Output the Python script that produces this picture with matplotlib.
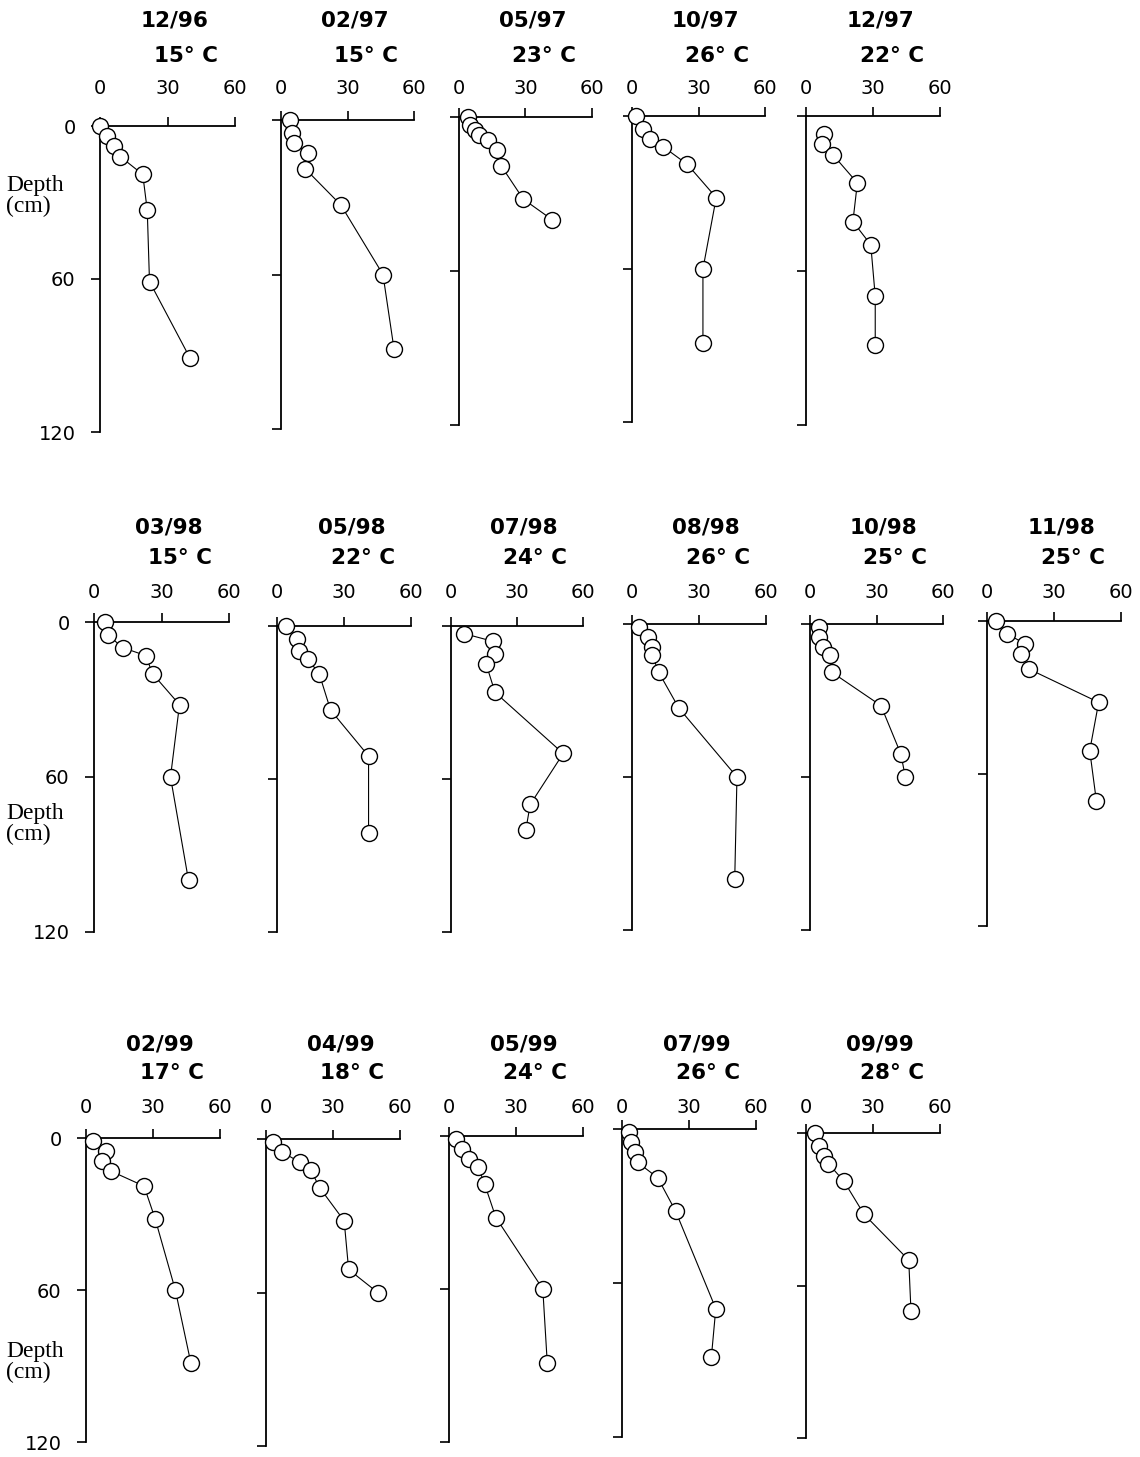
import matplotlib
matplotlib.use("Agg")
import matplotlib.pyplot as plt

W, H, DPI = 1140, 1457, 100

# ---------------- data ----------------
dates = ["12/96", "02/97", "05/97", "10/97", "12/97",
         "03/98", "05/98", "07/98", "08/98", "10/98", "11/98",
         "02/99", "04/99", "05/99", "07/99", "09/99"]
temps = ["15° C", "15° C", "23° C", "26° C", "22° C",
         "15° C", "22° C", "24° C", "26° C", "25° C", "25° C",
         "17° C", "18° C", "24° C", "26° C", "28° C"]

v_1296 = [0, 3, 6, 9, 19, 21, 22, 40]
d_1296 = [0, 4, 8, 12, 19, 33, 61, 91]
v_0297 = [4, 5, 6, 12, 11, 27, 46, 51]
d_0297 = [0, 5, 9, 13, 19, 33, 60, 89]
v_0597 = [4, 5, 7, 9, 13, 17, 19, 29, 42]
d_0597 = [0, 3, 5, 7, 9, 13, 19, 32, 40]
v_1097 = [2, 5, 8, 14, 25, 38, 32, 32]
d_1097 = [0, 5, 9, 12, 19, 32, 60, 89]
v_1297 = [8, 7, 12, 23, 21, 29, 31, 31]
d_1297 = [7, 11, 15, 26, 41, 50, 70, 89]

v_0398 = [5, 6, 13, 23, 26, 38, 34, 42]
d_0398 = [0, 5, 10, 13, 20, 32, 60, 100]
v_0598 = [4, 9, 10, 14, 19, 24, 41, 41]
d_0598 = [0, 5, 10, 13, 19, 33, 51, 81]
v_0798 = [6, 19, 20, 16, 20, 51, 36, 34]
d_0798 = [3, 6, 11, 15, 26, 50, 70, 80]
v_0898 = [3, 7, 9, 9, 12, 21, 47, 46]
d_0898 = [1, 5, 9, 12, 19, 33, 60, 100]
v_1098 = [4, 4, 6, 9, 10, 32, 41, 43]
d_1098 = [1, 5, 9, 12, 19, 32, 51, 60]
v_1198 = [4, 9, 17, 15, 19, 50, 46, 49]
d_1198 = [0, 5, 9, 13, 19, 32, 51, 71]

v_0299 = [3, 9, 7, 11, 26, 31, 40, 47]
d_0299 = [1, 5, 9, 13, 19, 32, 60, 89]
v_0499 = [3, 7, 15, 20, 24, 35, 37, 50]
d_0499 = [1, 5, 9, 12, 19, 32, 51, 60]
v_0599 = [3, 6, 9, 13, 16, 21, 42, 44]
d_0599 = [1, 5, 9, 12, 19, 32, 60, 89]
v_0799 = [3, 4, 6, 7, 16, 24, 42, 40]
d_0799 = [1, 5, 9, 13, 19, 32, 70, 89]
v_0999 = [4, 6, 8, 10, 17, 26, 46, 47]
d_0999 = [0, 5, 9, 12, 19, 32, 50, 70]

values = [v_1296, v_0297, v_0597, v_1097, v_1297,
          v_0398, v_0598, v_0798, v_0898, v_1098, v_1198,
          v_0299, v_0499, v_0599, v_0799, v_0999]
depths = [d_1296, d_0297, d_0597, d_1097, d_1297,
          d_0398, d_0598, d_0798, d_0898, d_1098, d_1198,
          d_0299, d_0499, d_0599, d_0799, d_0999]

x_ticks = [0, 30, 60]
x_ticklabels = ["0", "30", "60"]
y_ticks = [0, 60, 120]
y_ticklabels = ["0", "60", "120"]

# ---------------- layout (pixels) ----------------
# (x at 0, x at 60, y at depth 0, y at depth 120, row)
layout = [
    (100, 235, 126, 432, 0), (281, 414, 120, 429, 0), (459, 592, 117, 425, 0),
    (632, 765, 116, 422, 0), (806, 940, 116, 425, 0),
    (94, 229, 622, 932, 1), (277, 411, 626, 932, 1), (451, 583, 626, 932, 1),
    (632, 766, 624, 930, 1), (810, 943, 624, 930, 1), (987, 1121, 621, 926, 1),
    (86, 220, 1138, 1442, 2), (266, 400, 1139, 1446, 2), (449, 583, 1136, 1442, 2),
    (622, 756, 1129, 1437, 2), (806, 940, 1133, 1438, 2),
]
first_in_row = {0, 5, 11}
title_y = {0: (21, 56), 1: (528, 558), 2: (1045, 1073)}
ticklabel_y = {0: 86, 1: 590, 2: 1105}
depth_label_y = {0: 196, 1: 824, 2: 1362}

fig = plt.figure(figsize=(W / DPI, H / DPI), dpi=DPI)
fig.patch.set_facecolor("white")

TICK_LEN_PX = 9
for i, (x0, x1, yt, yb, row) in enumerate(layout):
    ax = fig.add_axes([x0 / W, 1 - yb / H, (x1 - x0) / W, (yb - yt) / H])
    ax.set_facecolor("none")
    ax.plot(values[i], depths[i], color="black", lw=0.8, marker="o",
            ms=11.5, mfc="white", mec="black", mew=1.0,
            clip_on=False, zorder=3)
    ax.set_xlim(0, 60)
    ax.set_ylim(120, 0)
    ax.spines["right"].set_visible(False)
    ax.spines["bottom"].set_visible(False)
    for s in ("left", "top"):
        ax.spines[s].set_linewidth(1.3)
    ax.xaxis.tick_top()
    ax.set_xticks(x_ticks)
    ax.set_xticklabels(x_ticklabels)
    ax.set_yticks(y_ticks)
    ax.set_yticklabels(y_ticklabels)
    pad_px = (yt - ticklabel_y[row]) - TICK_LEN_PX - 11.6
    ax.tick_params(axis="x", direction="out", length=TICK_LEN_PX * 0.72,
                   width=1.2, pad=max(pad_px, 1) * 0.72, labelsize=14)
    ax.tick_params(axis="y", direction="out", length=TICK_LEN_PX * 0.72,
                   width=1.2, pad=11, labelsize=14,
                   labelleft=(i in first_in_row))
    # titles
    t1y, t2y = title_y[row]
    fig.text((x0 + 0.555 * (x1 - x0)) / W, 1 - t1y / H, dates[i],
             ha="center", va="center", fontsize=15.5, fontweight="bold")
    fig.text((x0 + 0.64 * (x1 - x0)) / W, 1 - t2y / H, temps[i],
             ha="center", va="center", fontsize=15.5, fontweight="bold")

for row, yc in depth_label_y.items():
    fig.text(6 / W, 1 - yc / H, "Depth\n(cm)", ha="left", va="center",
             family="Liberation Serif", fontsize=17, linespacing=1.05,
             multialignment="left")

fig.savefig("out.png", dpi=DPI, facecolor="white")
